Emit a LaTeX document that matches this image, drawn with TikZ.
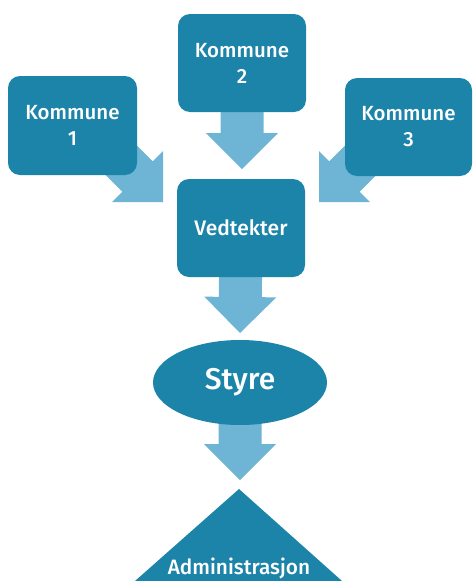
\documentclass[tikz,border=0pt]{standalone}
\usepackage{fontspec}
\setmainfont{Fira Sans Medium}
\usetikzlibrary{calc,backgrounds,shapes.geometric}
\definecolor{boxc}{HTML}{1B84A8}
\definecolor{arrc}{HTML}{6EB4D4}
\newcommand{\blockarrow}[2]{%
  \fill[arrc] let \p1=(#1), \p2=(#2) in
    coordinate (H) at ($(#2)!36pt!(#1)$)
    ($(#1)!21.5pt!90:(#2)$) -- ($(H)!21.5pt!-90:(#1)$) --
    ($(H)!36pt!-90:(#1)$) -- (#2) -- ($(H)!36pt!90:(#1)$) --
    ($(H)!21.5pt!90:(#1)$) -- ($(#1)!21.5pt!-90:(#2)$) -- cycle;}
\tikzset{
  kbox/.style={fill=boxc, rounded corners=12pt, text=white, align=center,
    minimum width=128pt, minimum height=98pt, inner sep=0pt,
    font=\fontsize{20.5}{26}\selectfont},
}
\begin{document}
\begin{tikzpicture}[x=1pt,y=-1pt]
\useasboundingbox (0,0) rectangle (472,581);
\clip (0,0) rectangle (472,581);
\node[kbox] (k2) at (242,63) {Kommune\\2};
\node[kbox, minimum width=129pt, minimum height=99pt] (k1) at (72.5,125.5) {Kommune\\1};
\node[kbox, minimum width=127pt] (k3) at (408.5,127) {Kommune\\3};
\node[kbox, font=\fontsize{21}{24}\selectfont] (ved) at (241,228) {Vedtekter};
\node[ellipse, fill=boxc, text=white, minimum width=174pt, minimum height=85pt,
  inner sep=0pt, font=\fontsize{30}{34}\selectfont] (sty) at (240,382.5) {Styre};
\fill[boxc] (239,489) coordinate (apex) -- (342,581) -- (135,581) -- cycle;
\node[text=white, font=\fontsize{20.8}{24}\selectfont, anchor=base] (adm) at (239,574) {Administrasjon};
\coordinate (t2) at (242,169);
\coordinate (t1) at (163,202);
\coordinate (s1) at (93,132);
\coordinate (t3) at (319,202);
\coordinate (s3) at (389,132);
\coordinate (tv) at (240,333);
\coordinate (ts) at (240,480);
\begin{scope}[on background layer]
\blockarrow{k2.center}{t2}
\blockarrow{s1}{t1}
\blockarrow{s3}{t3}
\blockarrow{ved.center}{tv}
\blockarrow{sty.center}{ts}
\end{scope}
\end{tikzpicture}
\end{document}
